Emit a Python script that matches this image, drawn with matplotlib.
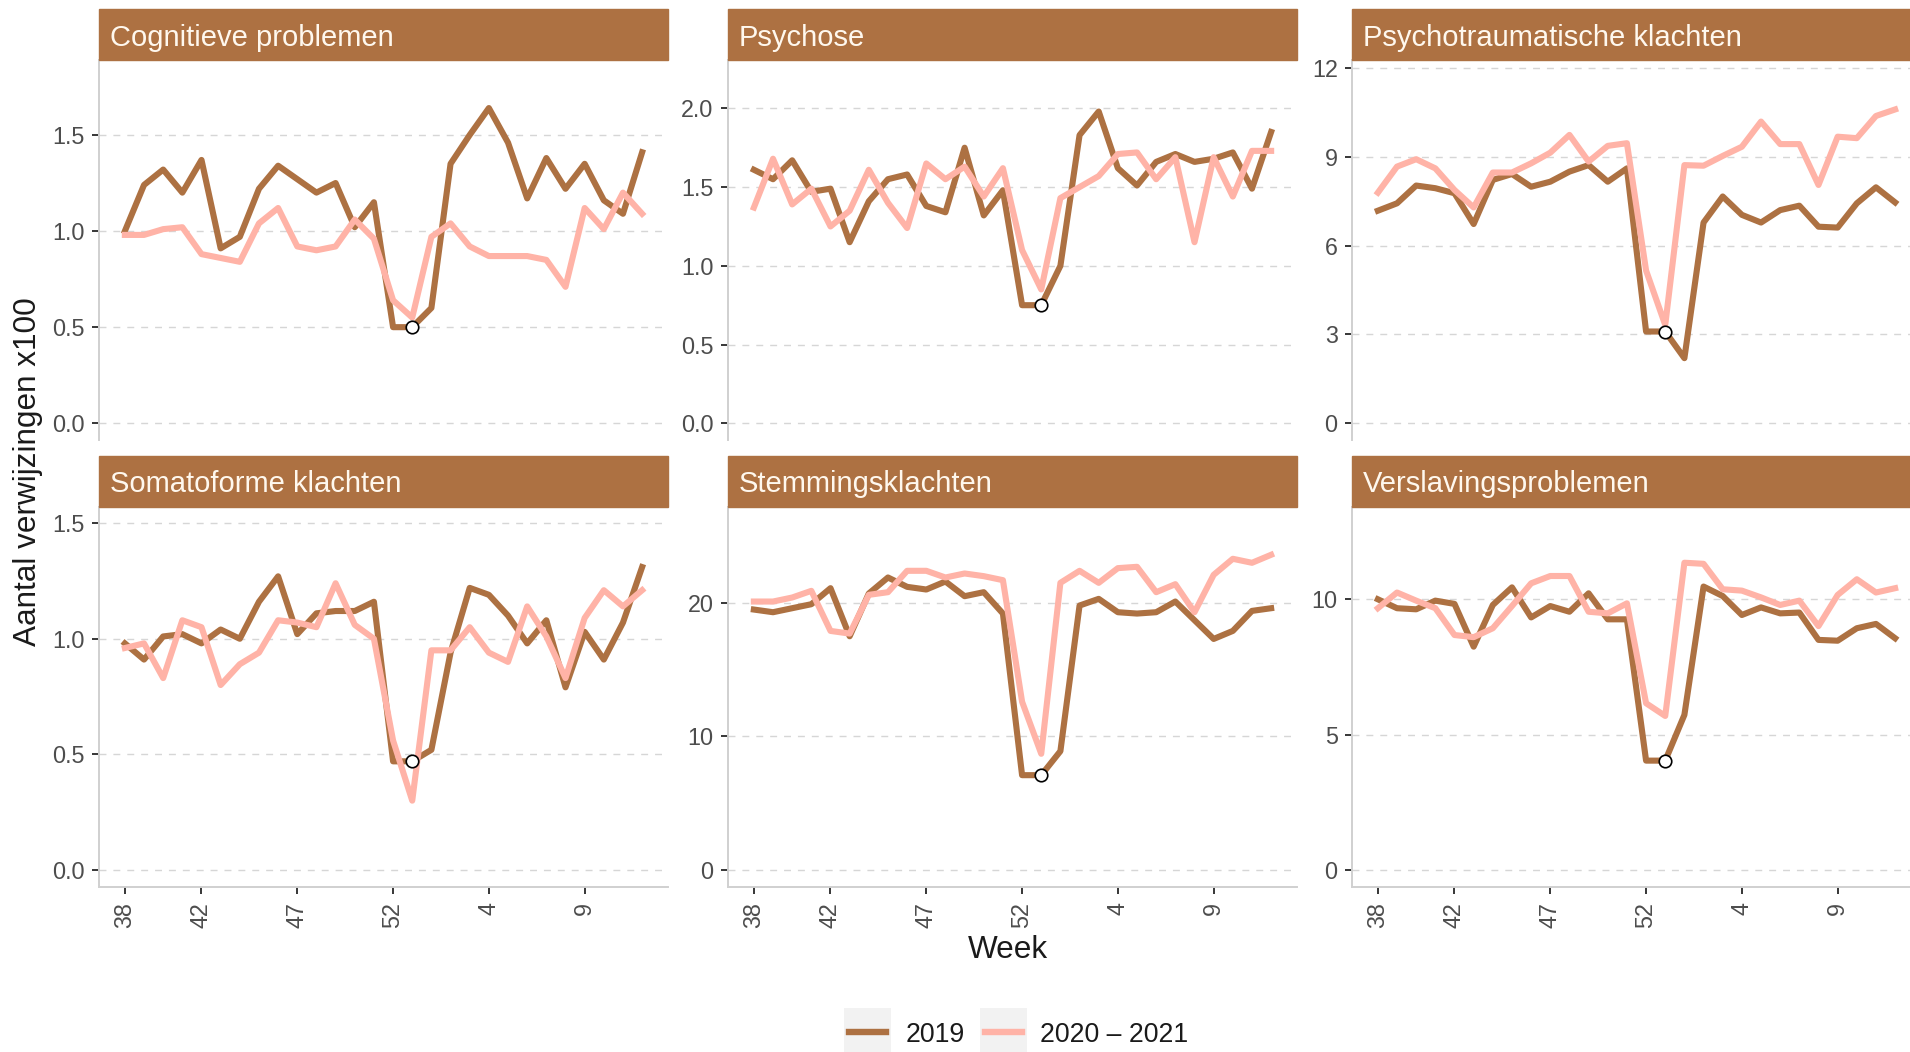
import matplotlib
matplotlib.use('Agg')
import matplotlib.pyplot as plt
from matplotlib.patches import Rectangle
from matplotlib.lines import Line2D

plt.rcParams['font.family'] = ['Liberation Sans', 'DejaVu Sans']

W, H = 1910, 1052
BROWN = '#AD7142'
PINK = '#FFB3A7'
GRID = '#D6D6D6'
AXIS = '#D0D0D0'
TXT = '#4D4D4D'

# week numbers on the x axis (2020 had a week 53)
weeks = list(range(38, 54)) + list(range(1, 13))
tick_weeks = [38, 42, 47, 52, 4, 9]
imputed_week = 53  # 2019 had no week 53: value copied from week 52

categories = ['Cognitieve problemen', 'Psychose', 'Psychotraumatische klachten',
              'Somatoforme klachten', 'Stemmingsklachten', 'Verslavingsproblemen']

cog_2019 = [1.00, 1.24, 1.32, 1.20, 1.37, 0.91, 0.97, 1.22, 1.34, 1.27, 1.20, 1.25, 1.02, 1.15,
            0.50, 0.50, 0.60, 1.35, 1.50, 1.64, 1.46, 1.17, 1.38, 1.22, 1.35, 1.16, 1.09, 1.41]
cog_2020 = [0.98, 0.98, 1.01, 1.02, 0.88, 0.86, 0.84, 1.04, 1.12, 0.92, 0.90, 0.92, 1.06, 0.96,
            0.64, 0.55, 0.97, 1.04, 0.92, 0.87, 0.87, 0.87, 0.85, 0.71, 1.12, 1.01, 1.20, 1.09]

psy_2019 = [1.61, 1.55, 1.67, 1.47, 1.49, 1.15, 1.41, 1.55, 1.58, 1.38, 1.34, 1.75, 1.32, 1.48,
            0.75, 0.75, 1.00, 1.83, 1.98, 1.62, 1.51, 1.66, 1.71, 1.66, 1.68, 1.72, 1.49, 1.85]
psy_2020 = [1.37, 1.68, 1.39, 1.49, 1.25, 1.35, 1.61, 1.40, 1.24, 1.65, 1.55, 1.63, 1.44, 1.62,
            1.10, 0.85, 1.43, 1.50, 1.57, 1.71, 1.72, 1.55, 1.69, 1.15, 1.69, 1.44, 1.73, 1.73]

trauma_2019 = [7.18, 7.43, 8.03, 7.94, 7.77, 6.73, 8.22, 8.42, 7.99, 8.16, 8.50, 8.72, 8.16, 8.61,
               3.10, 3.10, 2.20, 6.78, 7.66, 7.04, 6.78, 7.20, 7.35, 6.64, 6.61, 7.43, 7.97, 7.46]
trauma_2020 = [7.79, 8.67, 8.92, 8.61, 7.88, 7.29, 8.47, 8.47, 8.78, 9.14, 9.74, 8.84, 9.37, 9.46,
               5.16, 3.32, 8.72, 8.70, 9.03, 9.34, 10.19, 9.43, 9.43, 8.05, 9.68, 9.63, 10.38, 10.60]

soma_2019 = [0.98, 0.91, 1.01, 1.02, 0.98, 1.04, 1.00, 1.16, 1.27, 1.02, 1.11, 1.12, 1.12, 1.16,
             0.47, 0.47, 0.52, 0.94, 1.22, 1.19, 1.10, 0.98, 1.08, 0.79, 1.03, 0.91, 1.07, 1.31]
soma_2020 = [0.96, 0.98, 0.83, 1.08, 1.05, 0.80, 0.89, 0.94, 1.08, 1.07, 1.05, 1.24, 1.06, 1.00,
             0.56, 0.30, 0.95, 0.95, 1.05, 0.94, 0.90, 1.14, 1.01, 0.83, 1.09, 1.21, 1.14, 1.21]

mood_2019 = [19.5, 19.3, 19.6, 19.9, 21.1, 17.5, 20.7, 21.9, 21.2, 21.0, 21.6, 20.5, 20.8, 19.2,
             7.1, 7.1, 8.9, 19.8, 20.3, 19.3, 19.2, 19.3, 20.1, 18.7, 17.3, 17.9, 19.4, 19.6]
mood_2020 = [20.1, 20.1, 20.4, 20.9, 17.9, 17.7, 20.6, 20.8, 22.4, 22.4, 21.9, 22.2, 22.0, 21.7,
             12.6, 8.7, 21.5, 22.4, 21.5, 22.6, 22.7, 20.8, 21.4, 19.3, 22.1, 23.3, 23.0, 23.6]

addict_2019 = [10.00, 9.67, 9.63, 9.95, 9.83, 8.25, 9.79, 10.44, 9.33, 9.75, 9.54, 10.22, 9.26, 9.26,
               4.04, 4.04, 5.73, 10.47, 10.12, 9.42, 9.70, 9.48, 9.51, 8.50, 8.47, 8.93, 9.09, 8.56]
addict_2020 = [9.67, 10.25, 9.95, 9.67, 8.68, 8.60, 8.93, 9.75, 10.59, 10.86, 10.86, 9.54, 9.48, 9.85,
               6.16, 5.69, 11.35, 11.31, 10.37, 10.32, 10.07, 9.79, 9.95, 9.01, 10.16, 10.74, 10.25, 10.41]

series_2019 = [cog_2019, psy_2019, trauma_2019, soma_2019, mood_2019, addict_2019]
series_2020 = [cog_2020, psy_2020, trauma_2020, soma_2020, mood_2020, addict_2020]

yticks = [[0, 0.5, 1.0, 1.5], [0, 0.5, 1.0, 1.5, 2.0], [0, 3, 6, 9, 12],
          [0, 0.5, 1.0, 1.5], [0, 10, 20], [0, 5, 10]]
ylims = [(-0.087, 1.89), (-0.106, 2.307), (-0.564, 12.27),
         (-0.072, 1.571), (-1.25, 27.2), (-0.617, 13.42)]
yfmt = ['{:.1f}', '{:.1f}', '{:.0f}', '{:.1f}', '{:.0f}', '{:.0f}']

fig = plt.figure(figsize=(W / 100, H / 100), dpi=100)

col_left = [99, 728, 1352]
row_top = [60, 506.7]
pw, ph, sh = 569, 380, 51

x = list(range(len(weeks)))
i53 = weeks.index(imputed_week)
tick_pos = [weeks.index(w) for w in tick_weeks]

for k, name in enumerate(categories):
    row, col = divmod(k, 3)
    ax = fig.add_axes([col_left[col] / W, (H - row_top[row] - ph) / H, pw / W, ph / H])
    ax.plot(x, series_2019[k], color=BROWN, lw=4.4, solid_joinstyle='round', zorder=3)
    ax.plot(x, series_2020[k], color=PINK, lw=4.4, solid_joinstyle='round', zorder=4)
    ax.plot([i53], [series_2019[k][i53]], 'o', mfc='white', mec='black', ms=9, mew=1.2, zorder=5)

    ax.set_xlim(-1.35, 28.35)
    ax.set_ylim(*ylims[k])
    ax.set_yticks(yticks[k])
    ax.set_yticklabels([yfmt[k].format(v) for v in yticks[k]])
    ax.yaxis.grid(True, ls=(0, (5, 5)), color=GRID, lw=1.0)
    ax.set_axisbelow(True)
    for s in ['top', 'right']:
        ax.spines[s].set_visible(False)
    ax.spines['left'].set_color(AXIS)
    ax.spines['left'].set_linewidth(1.4)
    ax.tick_params(axis='y', length=4.8, width=1.1, color='black', pad=5.5,
                   labelsize=16.8, labelcolor=TXT)
    if row == 1:
        ax.spines['bottom'].set_color(AXIS)
        ax.spines['bottom'].set_linewidth(1.4)
        ax.set_xticks(tick_pos)
        ax.set_xticklabels([str(w) for w in tick_weeks], rotation=90)
        ax.tick_params(axis='x', length=4.8, width=1.1, color='black', pad=6.5,
                       labelsize=16.8, labelcolor=TXT)
    else:
        ax.spines['bottom'].set_visible(False)
        ax.set_xticks([])

    # facet strip
    ax.add_patch(Rectangle((0, 1), 1, sh / ph, transform=ax.transAxes,
                           color=BROWN, clip_on=False, zorder=6))
    ax.text(11 / pw, 1 + (sh / 2 - 3) / ph, name, transform=ax.transAxes, ha='left', va='center',
            fontsize=21, color='#FFF8EE', zorder=7)

fig.text(28 / W, 1 - 472 / H, 'Aantal verwijzingen x100', rotation=90,
         ha='center', va='center', fontsize=22.7, color='#1A1A1A')
fig.text(1008 / W, 1 - 950 / H, 'Week', ha='center', va='center',
         fontsize=22.7, color='#1A1A1A')

# legend at the bottom
legend_items = [('2019', BROWN, 844, 906), ('2020 \u2013 2021', PINK, 980, 1040)]
for label, c, kx, tx in legend_items:
    fig.add_artist(Rectangle((kx / W, 1 - 1055 / H), 47 / W, 47 / H,
                             transform=fig.transFigure, color='#F2F2F2', lw=0))
    fig.add_artist(Line2D([(kx + 5) / W, (kx + 42) / W], [1 - 1031.5 / H] * 2,
                          transform=fig.transFigure, color=c, lw=4.6))
    fig.text(tx / W, 1 - 1035 / H, label, ha='left', va='center',
             fontsize=19.2, color='#1A1A1A')

fig.savefig('out.png', dpi=100)
